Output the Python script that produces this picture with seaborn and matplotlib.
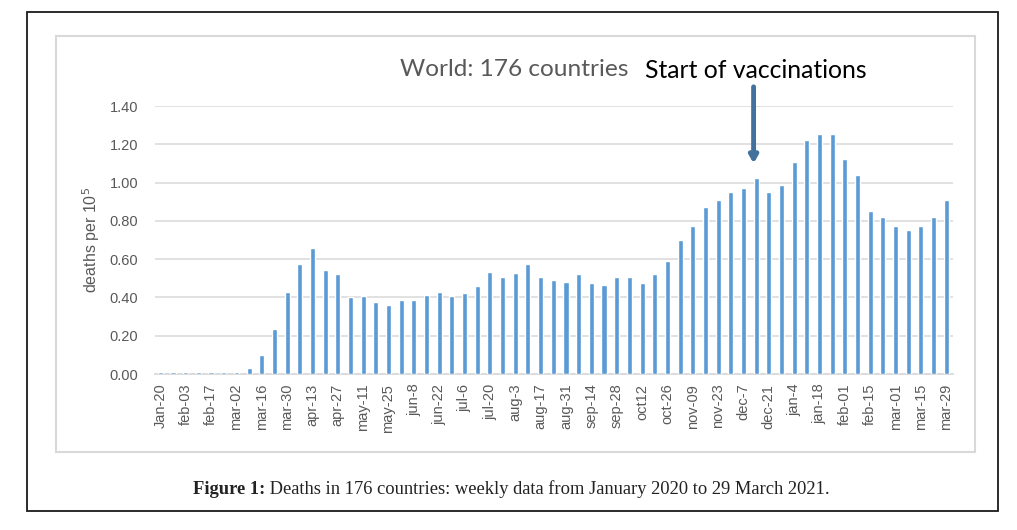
import matplotlib
matplotlib.use("Agg")
import matplotlib.pyplot as plt
import matplotlib.patches as mpatches
import seaborn as sns
import pandas as pd
import numpy as np

# ---- data ----
weeks = pd.date_range("2020-01-20", periods=63, freq="7D")
deaths = [0.008, 0.008, 0.008, 0.008, 0.008, 0.008, 0.008, 0.031, 0.099, 0.235,
          0.430, 0.575, 0.656, 0.543, 0.520, 0.400, 0.408, 0.378, 0.363, 0.386,
          0.386, 0.415, 0.430, 0.408, 0.424, 0.460, 0.535, 0.506, 0.528, 0.574,
          0.506, 0.490, 0.483, 0.520, 0.476, 0.467, 0.506, 0.506, 0.476, 0.520,
          0.588, 0.700, 0.775, 0.875, 0.911, 0.950, 0.972, 1.025, 0.950, 0.988,
          1.107, 1.222, 1.252, 1.252, 1.122, 1.040, 0.852, 0.822, 0.775, 0.754,
          0.775, 0.822, 0.911]
tick_labels = ["Jan-20", "feb-03", "feb-17", "mar-02", "mar-16", "mar-30", "apr-13",
               "apr-27", "may-11", "may-25", "jun-8", "jun-22", "jul-6", "jul-20",
               "aug-3", "aug-17", "aug-31", "sep-14", "sep-28", "oct12", "oct-26",
               "nov-09", "nov-23", "dec-7", "dec-21", "jan-4", "jan-18", "feb-01",
               "feb-15", "mar-01", "mar-15", "mar-29"]
y_ticks = [0.0, 0.2, 0.4, 0.6, 0.8, 1.0, 1.2, 1.4]
vacc_week = 47  # week of start of vaccinations

df = pd.DataFrame({"week": [d.strftime("%Y-%m-%d") for d in weeks], "deaths": deaths})

sns.set_theme(style="white")
plt.rcParams["font.family"] = ["Liberation Sans", "DejaVu Sans"]

W, H = 1017, 530
fig = plt.figure(figsize=(W / 100, H / 100), dpi=100)
ax = fig.add_axes([155 / W, 1 - 374 / H, (953 - 155) / W, (374 - 106) / H])

sns.barplot(data=df, x="week", y="deaths", color="#5B9BD5", saturation=1,
            width=0.4, ax=ax, zorder=3)

ax.set_ylim(0, 1.4)
ax.set_xlim(-0.42, 62.53)
ax.set_yticks(y_ticks)
ax.set_yticklabels([f"{v:.2f}" for v in y_ticks], fontsize=10.5, color="#595959")
ax.set_xticks(range(0, 63, 2))
ax.set_xticklabels(tick_labels, rotation=90, fontsize=10.5, color="#595959",
                   va="top", ha="center")
ax.tick_params(axis="both", length=0)
ax.tick_params(axis="y", pad=12)
ax.tick_params(axis="x", pad=7)
ax.set_xlabel("")
ax.set_ylabel("deaths per 10$^5$", fontsize=11.5, color="#595959")
ax.yaxis.set_label_coords(-0.067, 0.5)
ax.yaxis.grid(True, color="#D9D9D9", linewidth=1.1, zorder=0)
ax.set_axisbelow(True)
for s in ["left", "right", "top"]:
    ax.spines[s].set_visible(False)
ax.spines["bottom"].set_color("#D9D9D9")
ax.spines["bottom"].set_linewidth(1.3)
ax.spines["bottom"].set_zorder(1)

# arrow annotation
ax.annotate("", xy=(vacc_week - 0.2, 1.10), xytext=(vacc_week - 0.2, 1.50),
            annotation_clip=False,
            arrowprops=dict(arrowstyle="-|>,head_length=0.35,head_width=0.2",
                            color="#41719C", lw=3.5, shrinkA=0, shrinkB=0))

# titles
fig.text(400 / W, 1 - 76 / H, "World: 176 countries", fontsize=17.6, color="#595959",
         family=["Lato", "DejaVu Sans"], ha="left", va="baseline")
fig.text(645 / W, 1 - 78 / H, "Start of vaccinations", fontsize=17.8, color="black",
         family=["Lato", "DejaVu Sans"], ha="left", va="baseline")

# caption
serif = ["Liberation Serif", "DejaVu Serif"]
t1 = fig.text(193 / W, 1 - 498 / H, "Figure 1:", fontsize=13.3, fontweight="bold",
              ha="left", va="bottom", family=serif, color="#222222")
plt.annotate(" Deaths in 176 countries: weekly data from January 2020 to 29 March 2021.",
             xy=(1, 0), xycoords=t1, xytext=(0, 0), textcoords="offset points",
             fontsize=13.3, ha="left", va="bottom", family=serif, color="#222222",
             annotation_clip=False)

# borders
fig.patches.append(mpatches.Rectangle((27 / W, 1 - 511 / H), 971 / W, 499 / H,
                                      transform=fig.transFigure, fill=False,
                                      edgecolor="#1a1a1a", linewidth=1.3))
fig.patches.append(mpatches.Rectangle((56 / W, 1 - 452 / H), 919 / W, 416 / H,
                                      transform=fig.transFigure, fill=False,
                                      edgecolor="#D9D9D9", linewidth=1.5))

fig.savefig("out.png", dpi=100)
